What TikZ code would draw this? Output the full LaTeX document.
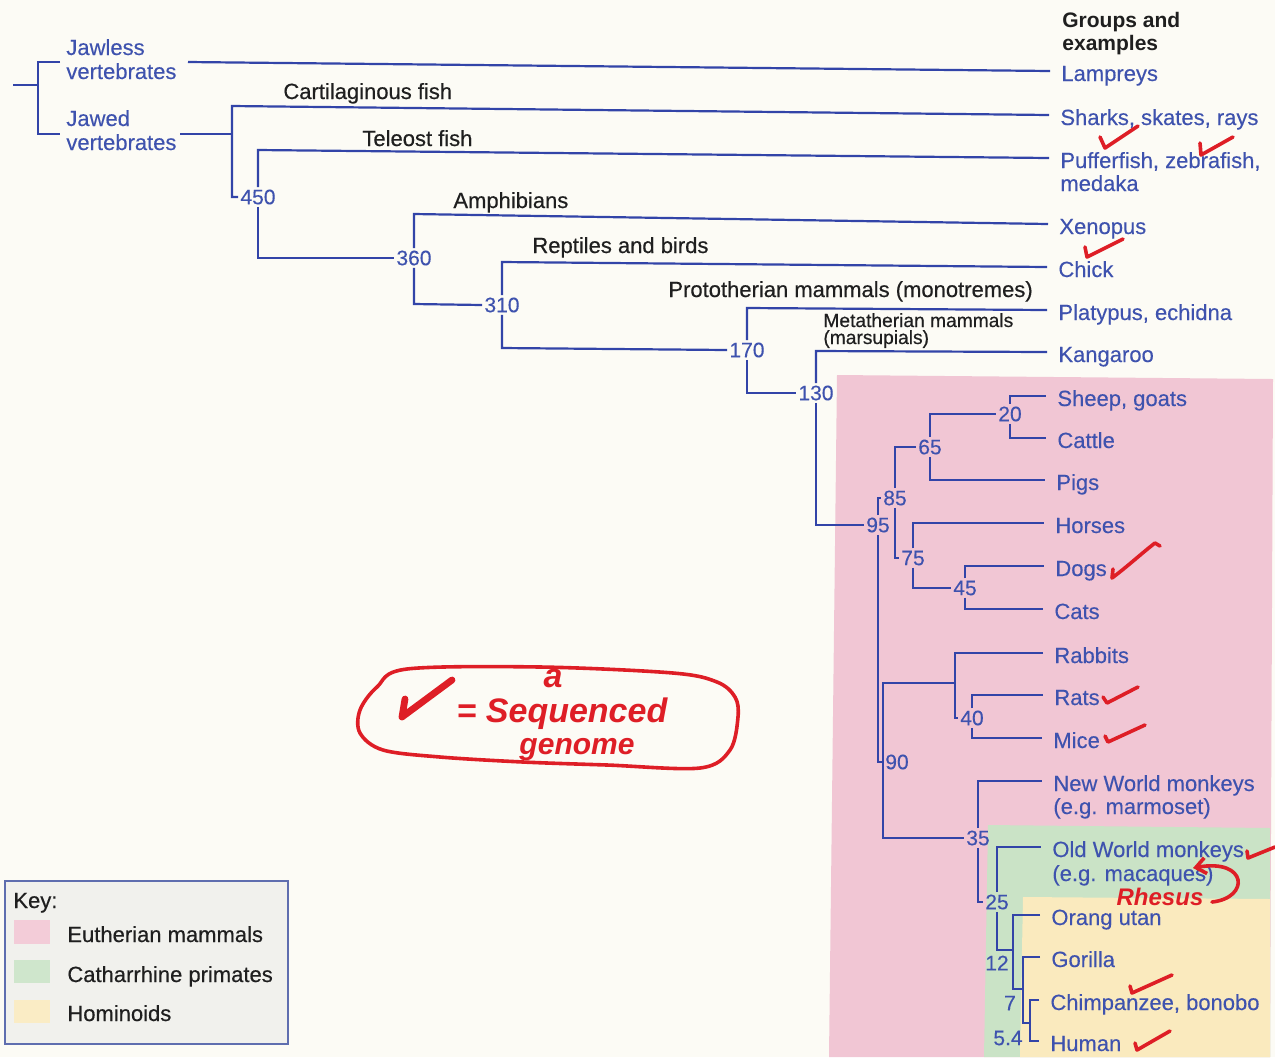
\documentclass[tikz,border=0pt]{standalone}
\usepackage{fontspec}
\setmainfont{Liberation Sans}
\newfontfamily\bluefont{Liberation Sans}[FakeBold=0.25]
\newfontfamily\blackfont{Liberation Sans}[FakeBold=0.45]
\usetikzlibrary{calc,arrows.meta}

\definecolor{paper}{RGB}{252,251,245}
\definecolor{treeblue}{RGB}{50,68,168}
\definecolor{labelblue}{RGB}{62,82,174}
\definecolor{eupink}{RGB}{241,198,212}
\definecolor{catgreen}{RGB}{202,227,198}
\definecolor{homyellow}{RGB}{250,234,190}
\definecolor{keygrey}{RGB}{241,241,237}
\definecolor{keyframe}{RGB}{95,110,175}
\definecolor{pen}{RGB}{222,30,38}

\begin{document}
\begin{tikzpicture}[x=0.5pt,y=-0.5pt,
  br/.style={draw=treeblue,line width=1.1pt},
  leaf/.style={anchor=base west,inner sep=0pt,text=labelblue,font=\bluefont\fontsize{11}{12}\selectfont},
  clade/.style={anchor=base west,inner sep=0pt,text=black!88,font=\blackfont\fontsize{11}{12}\selectfont},
  smallclade/.style={clade,font=\blackfont\fontsize{9.6}{10}\selectfont},
  header/.style={clade,font=\fontsize{10.5}{11}\selectfont\bfseries},
  age/.style={inner sep=1pt,text=labelblue,font=\bluefont\fontsize{10.5}{11}\selectfont},
  ink/.style={draw=pen,line width=1.8pt,line cap=round,line join=round},
  inktext/.style={text=pen,inner sep=0pt,font=\bfseries\itshape\fontsize{17}{18}\selectfont}
]
\useasboundingbox (0,0) rectangle (1275,1057);
\fill[paper] (0,0) rectangle (1275,1057);

% shaded groups
\fill[eupink] (837,375) -- (1273,379) -- (1270,1057) -- (829,1057) -- cycle;
\fill[catgreen] (988,825) -- (1270,828) -- (1270,1057) -- (984,1057) -- cycle;
\fill[homyellow] (1023,897) -- (1270,899) -- (1270,1057) -- (1020,1057) -- cycle;

% key
\draw[draw=keyframe,fill=keygrey,line width=0.8pt] (5,881) rectangle (288,1044);
\fill[eupink!90!white] (14,920) rectangle (50,944);
\fill[catgreen!90!white] (14,960) rectangle (50,983);
\fill[homyellow!90!white] (14,1000) rectangle (50,1023);
\node[clade] (keyhead) at (13,908) {Key:};
\node[clade] (keyeu) at (67,942) {Eutherian mammals};
\node[clade] (keycat) at (67,982) {Catharrhine primates};
\node[clade] (keyhom) at (67,1021) {Hominoids};

% header and outgroup labels
\node[header] (grp) at (1062,27) {Groups and};
\node[header] (grp2) at (1062,50) {examples};
\node[leaf] (jl) at (66,55) {Jawless};
\node[leaf] (jl2) at (66,79) {vertebrates};
\node[leaf] (jw) at (66,126) {Jawed};
\node[leaf] (jw2) at (66,150) {vertebrates};

% clade names
\node[clade] (cart) at (283,99) {Cartilaginous fish};
\node[clade] (tele) at (362,146) {Teleost fish};
\node[clade] (amph) at (453,208) {Amphibians};
\node[clade] (rept) at (532,253) {Reptiles and birds};
\node[clade] (proto) at (668,297) {Prototherian mammals (monotremes)};
\node[smallclade] (meta) at (823,327) {Metatherian mammals};
\node[smallclade] (meta2) at (823,344) {(marsupials)};

% groups and examples
\node[leaf] (lamp) at (1061,81) {Lampreys};
\node[leaf] (shark) at (1060,125) {Sharks, skates, rays};
\node[leaf] (puff) at (1060,168) {Pufferfish, zebrafish,};
\node[leaf] (puff2) at (1060,191) {medaka};
\node[leaf] (xen) at (1059,234) {Xenopus};
\node[leaf] (chick) at (1058,277) {Chick};
\node[leaf] (platy) at (1058,320) {Platypus, echidna};
\node[leaf] (kang) at (1058,362) {Kangaroo};
\node[leaf] (sheep) at (1057,406) {Sheep, goats};
\node[leaf] (cattle) at (1057,448) {Cattle};
\node[leaf] (pigs) at (1056,490) {Pigs};
\node[leaf] (horse) at (1055,533) {Horses};
\node[leaf] (dogs) at (1055,576) {Dogs};
\node[leaf] (cats) at (1054,619) {Cats};
\node[leaf] (rabbit) at (1054,663) {Rabbits};
\node[leaf] (rats) at (1054,705) {Rats};
\node[leaf] (mice) at (1053,748) {Mice};
\node[leaf] (nwm) at (1053,791) {New World monkeys};
\node[leaf] (nwm2) at (1053,814) {(e.g. marmoset)};
\node[leaf] (owm) at (1052,857) {Old World monkeys};
\node[leaf] (owm2) at (1052,881) {(e.g. macaques)};
\node[leaf] (orang) at (1051,925) {Orang utan};
\node[leaf] (gor) at (1051,967) {Gorilla};
\node[leaf] (chimp) at (1050,1010) {Chimpanzee, bonobo};
\node[leaf] (human) at (1050,1051) {Human};

\foreach \n in {lamp,shark,puff,xen,chick,platy,kang,sheep,cattle,pigs,horse,dogs,cats,rabbit,rats,mice,nwm,owm,orang,gor,chimp,human}
  \coordinate (\n A) at ([xshift=-5.5pt,yshift=5pt]\n.base west);

% divergence times (million years)
\node[age] (n450) at (258,197) {450};
\node[age] (n360) at (414,258) {360};
\node[age] (n310) at (502,305) {310};
\node[age] (n170) at (747,350) {170};
\node[age] (n130) at (816,393) {130};
\node[age] (n95) at (878,525) {95};
\node[age] (n85) at (895,498) {85};
\node[age] (n65) at (930,447) {65};
\node[age] (n20) at (1010,414) {20};
\node[age] (n75) at (913,558) {75};
\node[age] (n45) at (965,588) {45};
\node[age] (n40) at (972,718) {40};
\node[age] (n90) at (897,762) {90};
\node[age] (n35) at (978,838) {35};
\node[age] (n25) at (997,902) {25};
\node[age] (n12) at (997,963) {12};
\node[age] (n7) at (1010,1003) {7};
\node[age] (n54) at (1008,1038) {5.4};

% vertebrate root
\coordinate (root) at (13,85);
\draw[br] (root) -- (38,85);
\draw[br] (60,62) -- (38,62) -- (38,134) -- (60,134);
\draw[br] (188,62) -- (lampA);
\draw[br] (180,134) -- (232,134);
\draw[br] (sharkA) -- (232,106) -- (232,197) -- (n450.west);
\draw[br] (n450.north) -- (258,150) -- (puffA);
\draw[br] (n450.south) -- (258,258) -- (n360.west);
\draw[br] (n360.north) -- (414,214) -- (xenA);
\draw[br] (n360.south) -- (414,304) -- (n310.west);
\draw[br] (n310.north) -- (502,262) -- (chickA);
\draw[br] (n310.south) -- (502,348) -- (n170.west);
\draw[br] (n170.north) -- (747,308) -- (platyA);
\draw[br] (n170.south) -- (747,393) -- (n130.west);
\draw[br] (n130.north) -- (816,351) -- (kangA);
\draw[br] (n130.south) |- (n95.west);

% placental mammals
\draw[br] (n95.north) |- (n85.west);
\draw[br] (n95.south) |- (n90.west);
\draw[br] (n85.north) |- (n65.west);
\draw[br] (n85.south) |- (n75.west);
\draw[br] (n65.north) |- (n20.west);
\draw[br] (n65.south) |- (pigsA);
\draw[br] (n20.north) |- (sheepA);
\draw[br] (n20.south) |- (cattleA);
\draw[br] (n75.north) |- (horseA);
\draw[br] (n75.south) |- (n45.west);
\draw[br] (n45.north) |- (dogsA);
\draw[br] (n45.south) |- (catsA);

\coordinate (glires) at (955,683);
\coordinate (v90) at (883,683);
\draw[br] (glires) -- (v90) |- (n35.west);
\draw[br] (rabbitA) -| (glires) |- (n40.west);
\draw[br] (n40.north) |- (ratsA);
\draw[br] (n40.south) |- (miceA);

% primates
\coordinate (k12) at (1013,989);
\coordinate (k7) at (1023,1023);
\coordinate (k54) at (1030,1020);
\draw[br] (n35.north) |- (nwmA);
\draw[br] (n35.south) |- (n25.west);
\draw[br] (n25.north) |- (owmA);
\draw[br] (n25.south) |- (1013,950);
\draw[br] (orangA) -| (k12) -- (1023,989);
\draw[br] (gorA) -| (k7) -- (1030,1023);
\draw[br] (chimpA) -| (k54) |- (humanA);

% handwritten notes
\draw[ink] plot[smooth cycle,tension=0.55] coordinates {(407,669) (540,667) (673,673) (717,682) (735,697) (738,717) (730,750) (700,768) (607,765) (523,762) (440,757) (383,750) (360,733) (360,710) (377,687)};
\draw[ink,line width=3.4pt] (405,699) -- (402,717) -- (452,680);
\node[inktext] (hwa) at (553,679) {a};
\node[inktext] (hwseq) at (562,714) {= Sequenced};
\node[inktext,font=\bfseries\itshape\fontsize{15}{16}\selectfont] (hwgen) at (577,750) {genome};

\draw[ink] (1100,137) -- (1105,148) -- (1138,126);
\draw[ink] (1200,143) -- (1201,155) -- (1233,137);
\draw[ink] (1085,247) -- (1087,257) -- (1123,239);
\draw[ink] (1113,569) -- (1112,578) .. controls (1128,566) and (1142,553) .. (1155,543) -- (1160,546);
\draw[ink] (1103,697) -- (1107,703) -- (1138,687);
\draw[ink] (1105,736) -- (1108,742) -- (1145,725);
\draw[ink] (1247,851) -- (1248,858) -- (1275,847);
\draw[ink] (1130,986) -- (1132,993) -- (1172,975);
\draw[ink] (1135,1043) -- (1137,1050) -- (1170,1031);

\node[inktext,font=\bfseries\itshape\fontsize{12}{13}\selectfont] (rhesus) at (1160,897) {Rhesus};
\draw[ink,-{Straight Barb[length=5pt,width=8pt]}] (1212,902) .. controls (1250,898) and (1248,858) .. (1193,868);
\end{tikzpicture}
\end{document}
